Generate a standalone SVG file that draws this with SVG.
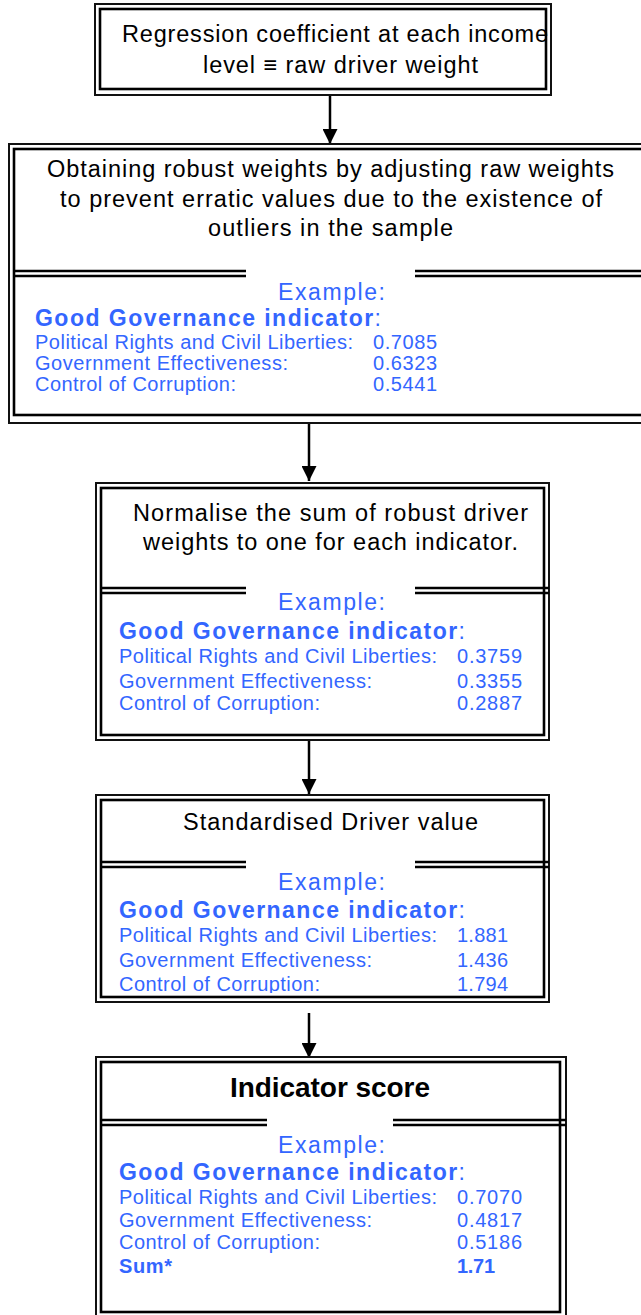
<svg xmlns="http://www.w3.org/2000/svg" width="641" height="1315" viewBox="0 0 641 1315">
<style>
.bo{fill:#fff;stroke:#111;stroke-width:2}
.bi{fill:none;stroke:#000;stroke-width:2.6}
.sep{stroke:#000;stroke-width:2.4}
.t{font-family:"Liberation Sans",Arial,sans-serif;font-size:23.5px;fill:#000}
.tb{font-family:"Liberation Sans",Arial,sans-serif;font-size:28px;font-weight:bold;fill:#000}
.ex{font-family:"Liberation Sans",Arial,sans-serif;font-size:23px;fill:#3366ff}
.gg{font-family:"Liberation Sans",Arial,sans-serif;font-size:23px;font-weight:bold;fill:#3366ff}
.b{font-family:"Liberation Sans",Arial,sans-serif;font-size:20px;fill:#3366ff}
.bb{font-family:"Liberation Sans",Arial,sans-serif;font-size:20px;font-weight:bold;fill:#3366ff}
.c{stroke:#000;stroke-width:2.5;fill:none}
</style>
<defs>
<marker id="ah" markerUnits="userSpaceOnUse" markerWidth="15" markerHeight="15" viewBox="0 0 15 15" refX="15" refY="7.5" orient="auto">
<path d="M0,0 L15,7.5 L0,15 Z" fill="#000"/>
</marker>
<clipPath id="clip4"><rect x="0" y="794" width="641" height="199"/></clipPath>
</defs>

<g id="connectors">
<line class="c" x1="330" y1="96" x2="330" y2="144" marker-end="url(#ah)"/>
<line class="c" x1="309" y1="424" x2="309" y2="481" marker-end="url(#ah)"/>
<line class="c" x1="309" y1="741" x2="309" y2="794" marker-end="url(#ah)"/>
<line class="c" x1="309" y1="1013" x2="309" y2="1058" marker-end="url(#ah)"/>
<line x1="478" y1="1285" x2="519" y2="1316" stroke="#00e000" stroke-width="2.5"/>
</g>

<g id="node1">
<rect class="bo" x="95" y="4" width="456" height="91"/>
<rect class="bi" x="100" y="9" width="446" height="80"/>
<text class="t" x="122" y="42" textLength="426" lengthAdjust="spacing">Regression coefficient at each income</text>
<text class="t" x="203" y="73" textLength="275" lengthAdjust="spacing">level ≡ raw driver weight</text>
</g>

<g id="node2">
<rect class="bo" x="9" y="144" width="700" height="279"/>
<rect class="bi" x="14" y="149" width="690" height="266"/>
<line class="sep" x1="14" y1="271" x2="246" y2="271"/>
<line class="sep" x1="14" y1="276" x2="246" y2="276"/>
<line class="sep" x1="415" y1="271" x2="641" y2="271"/>
<line class="sep" x1="415" y1="276" x2="641" y2="276"/>
<text class="t" x="47" y="177" textLength="567" lengthAdjust="spacing">Obtaining robust weights by adjusting raw weights</text>
<text class="t" x="60" y="207" textLength="542" lengthAdjust="spacing">to prevent erratic values due to the existence of</text>
<text class="t" x="208" y="236" textLength="245" lengthAdjust="spacing">outliers in the sample</text>
<text class="ex" x="278" y="300" textLength="107" lengthAdjust="spacing">Example:</text>
<text class="gg" x="35" y="326" textLength="346" lengthAdjust="spacing">Good Governance indicator<tspan font-weight="normal">:</tspan></text>
<text class="b" x="35" y="349" textLength="318" lengthAdjust="spacing">Political Rights and Civil Liberties:</text>
<text class="b" x="373" y="349" textLength="64" lengthAdjust="spacing">0.7085</text>
<text class="b" x="35" y="370" textLength="253" lengthAdjust="spacing">Government Effectiveness:</text>
<text class="b" x="373" y="370" textLength="64" lengthAdjust="spacing">0.6323</text>
<text class="b" x="35" y="391" textLength="201" lengthAdjust="spacing">Control of Corruption:</text>
<text class="b" x="373" y="391" textLength="64" lengthAdjust="spacing">0.5441</text>
</g>

<g id="node3">
<rect class="bo" x="96" y="483" width="453" height="257"/>
<rect class="bi" x="101" y="488" width="443" height="247"/>
<line class="sep" x1="101" y1="588" x2="246" y2="588"/>
<line class="sep" x1="101" y1="593" x2="246" y2="593"/>
<line class="sep" x1="415" y1="588" x2="549" y2="588"/>
<line class="sep" x1="415" y1="593" x2="549" y2="593"/>
<text class="t" x="133" y="521" textLength="395" lengthAdjust="spacing">Normalise the sum of robust driver</text>
<text class="t" x="143" y="550" textLength="375" lengthAdjust="spacing">weights to one for each indicator.</text>
<text class="ex" x="278" y="610" textLength="107" lengthAdjust="spacing">Example:</text>
<text class="gg" x="119" y="639" textLength="346" lengthAdjust="spacing">Good Governance indicator<tspan font-weight="normal">:</tspan></text>
<text class="b" x="119" y="663" textLength="318" lengthAdjust="spacing">Political Rights and Civil Liberties:</text>
<text class="b" x="457" y="663" textLength="65" lengthAdjust="spacing">0.3759</text>
<text class="b" x="119" y="688" textLength="253" lengthAdjust="spacing">Government Effectiveness:</text>
<text class="b" x="457" y="688" textLength="65" lengthAdjust="spacing">0.3355</text>
<text class="b" x="119" y="710" textLength="201" lengthAdjust="spacing">Control of Corruption:</text>
<text class="b" x="457" y="710" textLength="65" lengthAdjust="spacing">0.2887</text>
</g>

<g id="node4">
<rect class="bo" x="96" y="795" width="453" height="207"/>
<rect class="bi" x="101" y="800" width="443" height="197"/>
<line class="sep" x1="101" y1="862" x2="246" y2="862"/>
<line class="sep" x1="101" y1="867" x2="246" y2="867"/>
<line class="sep" x1="415" y1="862" x2="549" y2="862"/>
<line class="sep" x1="415" y1="867" x2="549" y2="867"/>
<text class="t" x="183" y="830" textLength="295" lengthAdjust="spacing">Standardised Driver value</text>
<g clip-path="url(#clip4)">
<text class="ex" x="278" y="890" textLength="107" lengthAdjust="spacing">Example:</text>
<text class="gg" x="119" y="918" textLength="346" lengthAdjust="spacing">Good Governance indicator<tspan font-weight="normal">:</tspan></text>
<text class="b" x="119" y="942" textLength="318" lengthAdjust="spacing">Political Rights and Civil Liberties:</text>
<text class="b" x="457" y="942" textLength="51" lengthAdjust="spacing">1.881</text>
<text class="b" x="119" y="967" textLength="253" lengthAdjust="spacing">Government Effectiveness:</text>
<text class="b" x="457" y="967" textLength="51" lengthAdjust="spacing">1.436</text>
<text class="b" x="119" y="991" textLength="201" lengthAdjust="spacing">Control of Corruption:</text>
<text class="b" x="457" y="991" textLength="51" lengthAdjust="spacing">1.794</text>
</g>
</g>

<g id="node5">
<rect class="bo" x="96" y="1057" width="470" height="260"/>
<rect class="bi" x="101" y="1062" width="459" height="250"/>
<line class="sep" x1="101" y1="1120" x2="267" y2="1120"/>
<line class="sep" x1="101" y1="1125" x2="267" y2="1125"/>
<line class="sep" x1="393" y1="1120" x2="566" y2="1120"/>
<line class="sep" x1="393" y1="1125" x2="566" y2="1125"/>
<text class="tb" x="230" y="1097" textLength="200" lengthAdjust="spacing">Indicator score</text>
<text class="ex" x="278" y="1153" textLength="107" lengthAdjust="spacing">Example:</text>
<text class="gg" x="119" y="1180" textLength="346" lengthAdjust="spacing">Good Governance indicator<tspan font-weight="normal">:</tspan></text>
<text class="b" x="119" y="1204" textLength="318" lengthAdjust="spacing">Political Rights and Civil Liberties:</text>
<text class="b" x="457" y="1204" textLength="65" lengthAdjust="spacing">0.7070</text>
<text class="b" x="119" y="1227" textLength="253" lengthAdjust="spacing">Government Effectiveness:</text>
<text class="b" x="457" y="1227" textLength="65" lengthAdjust="spacing">0.4817</text>
<text class="b" x="119" y="1249" textLength="201" lengthAdjust="spacing">Control of Corruption:</text>
<text class="b" x="457" y="1249" textLength="65" lengthAdjust="spacing">0.5186</text>
<text class="bb" x="119" y="1273" textLength="53" lengthAdjust="spacing">Sum*</text>
<text class="bb" x="457" y="1273" textLength="38" lengthAdjust="spacing">1.71</text>
</g>
</svg>
